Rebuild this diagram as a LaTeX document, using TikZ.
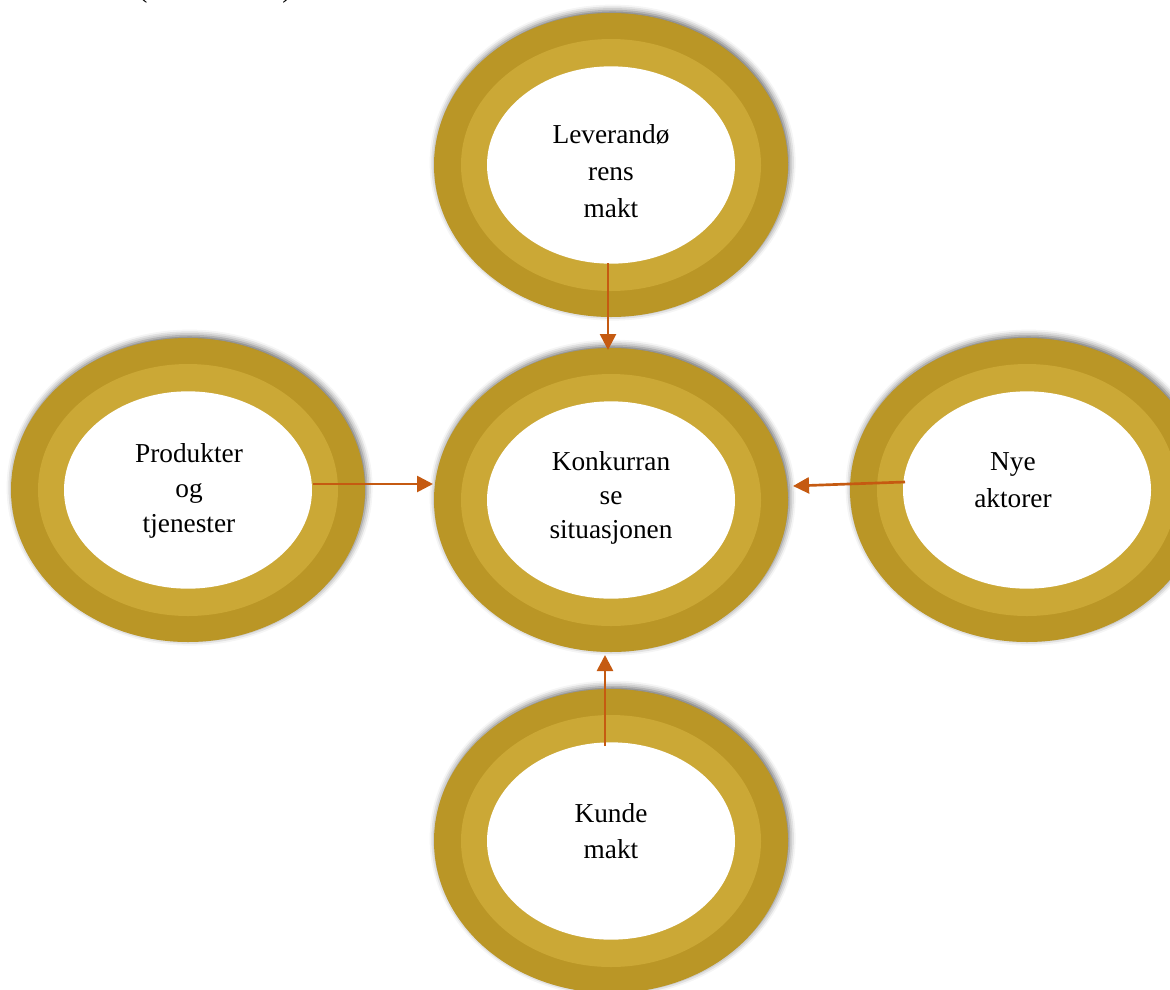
\documentclass[tikz,border=0pt]{standalone}
\usepackage{fontspec}
\setmainfont{Liberation Serif}
\usetikzlibrary{shadows.blur,arrows.meta,shapes.geometric}
\definecolor{golddark}{RGB}{186,150,38}
\definecolor{goldlight}{RGB}{203,168,54}
\definecolor{arrowc}{RGB}{197,90,17}
\begin{document}
\begin{tikzpicture}[x=0.75pt,y=-0.75pt,
 ringout/.style={ellipse, fill=golddark, minimum width=265.5pt, minimum height=228pt, inner sep=0pt, outer sep=0pt,
   blur shadow={shadow xshift=1.2pt, shadow yshift=1.8pt, shadow blur radius=4.5pt, shadow opacity=60}},
 ringmid/.style={ellipse, fill=goldlight, minimum width=225pt, minimum height=189pt, inner sep=0pt, outer sep=0pt},
 ringin/.style={ellipse, fill=white, minimum width=186pt, minimum height=148pt, inner sep=0pt, outer sep=0pt},
 lbl/.style={align=center, inner sep=0pt, font=\fontsize{20.5}{27.5}\selectfont},
 arr/.style={draw=arrowc, line width=2pt, -{Triangle[length=12pt,width=12pt]}}]
\useasboundingbox (0,0) rectangle (1170,989);
% rings
\foreach \n/\x/\y in {top/611/165, ctr/611/500, bot/611/841, lft/188/490, rgt/1027/490}{
  \node[ringout] (\n O) at (\x,\y) {};
  \node[ringmid] (\n M) at (\x,\y) {};
  \node[ringin] (\n W) at (\x,\y) {};
}
% labels
\node[lbl] (topT) at (611,171) {Leverandø\\rens\\makt};
\node[lbl, font=\fontsize{20.5}{25.5}\selectfont] (ctrT) at (611,498) {Konkurran\\se\\situasjonen};
\node[lbl, font=\fontsize{20.5}{26}\selectfont] (lftT) at (189,491) {Produkter\\og\\tjenester};
\node[lbl] (rgtT) at (1013,480) {Nye\\aktorer};
\node[lbl] (botT) at (611,831) {Kunde\\makt};
% partially visible parentheses at the top
\node[lbl, anchor=base] (lp) at (143,-3) {(};
\node[lbl, anchor=base] (rp) at (287,-3) {)};
% connectors
\coordinate (a1) at (608,263);
\coordinate (a2) at (608,350);
\coordinate (b1) at (313,484);
\coordinate (b2) at (433,484);
\coordinate (c1) at (905,482);
\coordinate (c2) at (793,486);
\coordinate (d1) at (605,746);
\coordinate (d2) at (605,655);
\draw[arr] (a1) -- (a2);
\draw[arr] (b1) -- (b2);
\draw[arr] (c1) -- (c2);
\draw[arr] (d1) -- (d2);
\end{tikzpicture}
\end{document}
